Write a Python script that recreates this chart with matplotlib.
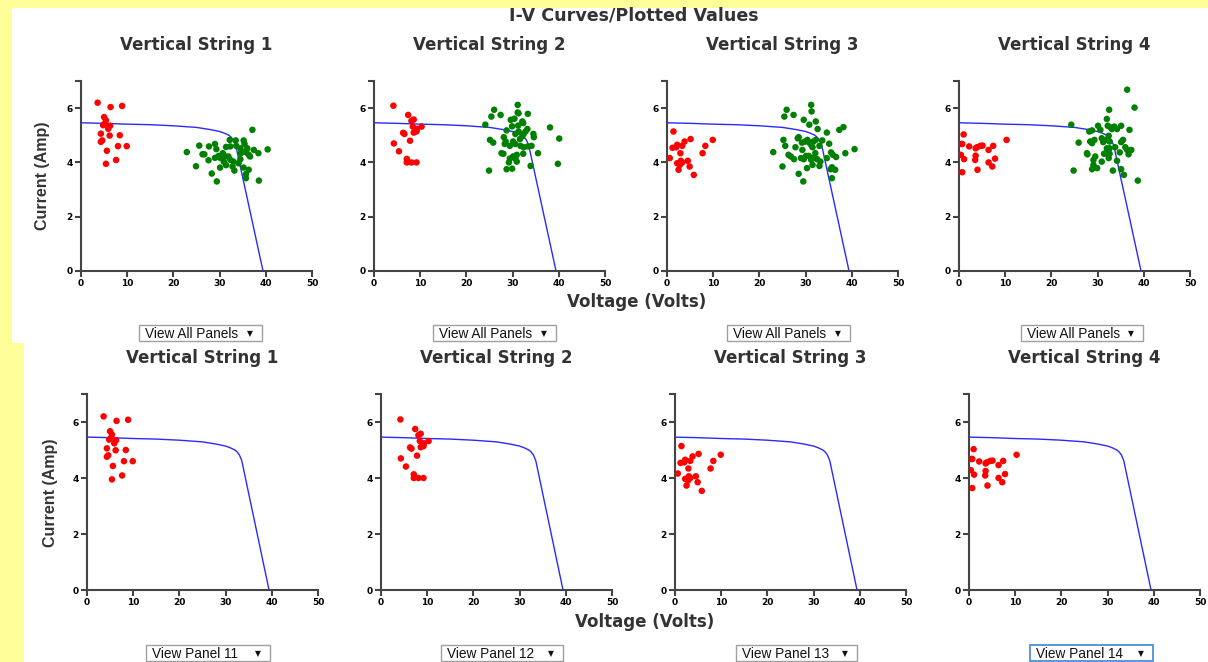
import matplotlib
matplotlib.use("Agg")
import matplotlib.pyplot as plt
from matplotlib.patches import Rectangle

W, H = 1208, 662

# IV curve (voltage, current)
curve_v = [0, 5, 10, 15, 20, 25, 28, 30, 31, 32, 32.5, 33, 33.5, 39.4]
curve_i = [5.46, 5.44, 5.41, 5.39, 5.35, 5.29, 5.21, 5.14, 5.08, 5.00, 4.93, 4.82, 4.62, 0]

# red points (panel readings) per string
red1_v = [3.6, 6.4, 8.9, 5.0, 5.4, 5.1, 6.3, 4.8, 5.9, 4.3, 6.2, 8.4, 4.6, 4.3, 8.0, 9.9, 5.6, 7.6, 5.4]
red1_i = [6.2, 6.04, 6.08, 5.67, 5.55, 5.42, 5.35, 5.37, 5.24, 5.06, 4.99, 5.0, 4.81, 4.76, 4.6, 4.6, 4.43, 4.09, 3.95]
red2_v = [4.2, 7.4, 8.6, 8.1, 8.4, 10.3, 9.3, 9.2, 8.6, 6.3, 6.6, 7.8, 4.3, 5.4, 7.1, 7.1, 8.1, 9.2]
red2_i = [6.09, 5.75, 5.58, 5.53, 5.32, 5.32, 5.24, 5.14, 5.1, 5.09, 5.05, 4.80, 4.70, 4.41, 4.13, 4.0, 4.0, 4.0]
red3_v = [1.4, 1.2, 2.2, 2.0, 3.3, 3.8, 5.1, 0.6, 2.9, 3.0, 3.3, 2.2, 2.8, 4.5, 2.5, 4.9, 5.8, 7.7, 8.3, 9.9]
red3_i = [5.14, 4.54, 4.65, 4.56, 4.61, 4.77, 4.86, 4.16, 4.34, 4.06, 4.0, 3.97, 3.91, 4.06, 3.73, 3.85, 3.54, 4.34, 4.61, 4.83]
red4_v = [1.0, 0.5, 0.7, 2.2, 3.6, 3.9, 4.6, 5.1, 7.4, 6.4, 0.4, 1.1, 3.6, 3.5, 7.8, 6.4, 7.2, 4.0, 0.7, 10.3]
red4_i = [5.03, 4.68, 4.68, 4.59, 4.52, 4.56, 4.61, 4.62, 4.61, 4.46, 4.28, 4.12, 4.25, 4.09, 4.14, 4.0, 3.85, 3.73, 3.64, 4.83]

# green points (other plotted values) per string
grn1_v = [22.9, 25.6, 26.3, 26.7, 24.9, 27.7, 29.0, 27.6, 29.3, 28.3, 29.4, 30.1, 29.0, 29.8, 30.1,
          30.7, 31.2, 31.4, 32.3, 32.2, 33.5, 33.6, 35.2, 35.4, 36.0, 35.8, 36.3, 37.1, 37.4, 38.4,
          40.4, 31.4, 32.3, 33.0, 33.2, 34.5, 34.6, 35.2, 36.3, 35.7, 35.7, 38.5, 36.6, 32.8, 34.1,
          31.9, 30.9, 34.5, 35.5]
grn1_i = [4.38, 4.62, 4.30, 4.30, 3.86, 4.59, 4.68, 4.08, 4.49, 3.59, 3.30, 3.81, 4.17, 4.24, 4.17,
          4.34, 4.22, 4.57, 4.59, 4.83, 4.81, 4.61, 4.81, 4.68, 4.52, 4.37, 4.28, 5.2, 4.46, 4.34,
          4.48, 3.9, 4.1, 4.03, 3.7, 4.12, 4.34, 3.81, 3.73, 3.57, 3.42, 3.33, 4.22, 3.85, 3.97,
          4.22, 4.03, 4.52, 4.40]
grn2_v = [24.1, 24.9, 25.4, 26.0, 27.4, 25.1, 25.8, 27.6, 28.0, 28.7, 28.1, 28.5, 28.3, 28.7, 29.9,
          29.2, 29.4, 29.6, 30.4, 31.1, 31.1, 31.3, 33.3, 32.1, 32.3, 31.2, 33.2, 32.8, 32.4, 32.1,
          31.6, 30.1, 30.6, 29.4, 31.7, 32.4, 33.3, 34.1, 34.5, 34.6, 35.5, 33.9, 30.9, 30.6, 30.1,
          30.9, 32.3, 38.1, 40.1, 39.8, 29.9, 30.6, 31.3]
grn2_i = [5.39, 3.70, 5.69, 5.94, 5.75, 4.83, 4.73, 4.34, 4.32, 5.18, 4.93, 4.77, 4.68, 3.75, 3.77,
          4.0, 4.14, 5.57, 5.61, 6.12, 5.84, 5.81, 5.79, 5.51, 5.45, 5.36, 5.23, 5.14, 5.05, 4.96,
          4.86, 4.77, 4.68, 4.61, 4.61, 4.56, 4.59, 4.61, 5.05, 4.93, 4.34, 3.87, 4.28, 4.14, 4.22,
          4.03, 4.32, 5.29, 4.88, 3.95, 5.33, 5.05, 5.14]
grn3_v = [23.0, 25.0, 25.2, 25.4, 25.9, 27.4, 25.6, 26.3, 26.8, 27.5, 27.8, 28.3, 28.5, 29.6, 29.3,
          29.0, 29.6, 29.2, 29.9, 28.5, 29.5, 30.3, 30.1, 30.7, 31.2, 31.3, 30.8, 32.2, 32.6, 30.4,
          30.8, 31.2, 31.5, 31.7, 32.2, 33.6, 33.0, 32.1, 31.7, 31.2, 32.5, 31.5, 33.0, 33.2, 34.6,
          35.1, 34.6, 35.5, 35.9, 35.7, 35.4, 36.4, 35.7, 36.6, 37.3, 38.2, 38.6, 40.6]
grn3_i = [4.38, 3.85, 4.83, 5.69, 5.94, 5.75, 4.61, 4.28, 4.22, 4.12, 4.56, 4.89, 4.93, 5.57, 4.46,
          4.16, 4.12, 4.73, 4.77, 3.58, 3.30, 3.79, 4.24, 4.24, 6.12, 5.88, 5.39, 5.51, 5.23, 4.83,
          4.73, 4.65, 4.56, 4.77, 4.83, 4.81, 4.61, 4.34, 4.16, 4.10, 4.12, 3.91, 3.87, 4.03, 5.10,
          4.69, 4.16, 4.37, 4.28, 3.82, 3.75, 3.73, 3.42, 4.2, 5.20, 5.30, 4.34, 4.49]
grn4_v = [24.3, 24.8, 25.9, 27.7, 27.8, 28.2, 28.8, 28.4, 28.8, 29.3, 29.1, 29.5, 28.8, 29.9, 29.1,
          30.1, 30.6, 30.9, 31.2, 30.9, 31.4, 32.0, 32.5, 32.2, 32.8, 33.1, 33.6, 34.2, 32.4, 32.0,
          32.6, 32.0, 32.6, 31.9, 32.6, 32.4, 33.3, 33.8, 34.2, 35.1, 35.1, 35.5, 34.8, 35.1, 35.7,
          36.0, 36.4, 36.9, 36.4, 37.3, 36.7, 38.0, 38.7]
grn4_i = [5.39, 3.70, 4.73, 4.34, 4.30, 5.14, 5.18, 4.77, 4.71, 4.83, 4.09, 4.22, 3.75, 3.79, 3.91,
          5.35, 5.20, 4.89, 4.75, 4.03, 4.32, 5.6, 5.94, 5.35, 5.29, 5.23, 5.32, 5.23, 4.98, 4.83,
          4.77, 4.52, 4.52, 4.34, 4.32, 4.16, 3.70, 4.56, 4.06, 5.35, 4.75, 4.83, 4.37, 3.75, 3.54,
          4.56, 4.46, 5.20, 6.68, 4.46, 4.30, 6.02, 3.33]

titles = ["Vertical String 1", "Vertical String 2", "Vertical String 3", "Vertical String 4"]
reds = [(red1_v, red1_i), (red2_v, red2_i), (red3_v, red3_i), (red4_v, red4_i)]
greens = [(grn1_v, grn1_i), (grn2_v, grn2_i), (grn3_v, grn3_i), (grn4_v, grn4_i)]
top_menus = ["View All Panels", "View All Panels", "View All Panels", "View All Panels"]
bot_menus = ["View Panel 11", "View Panel 12", "View Panel 13", "View Panel 14"]

YELLOW = "#ffff99"
TXT = "#333333"
FONT = "Liberation Sans"
BOLD = "DejaVu Sans"

fig = plt.figure(figsize=(W / 100, H / 100), dpi=100)
fig.patch.set_facecolor(YELLOW)


def fx(px):
    return px / W


def fy(py):
    return 1 - py / H


# white page areas
fig.patches.append(Rectangle((fx(12), fy(343)), fx(W - 12), 335 / H, transform=fig.transFigure,
                             facecolor="white", edgecolor="none", zorder=-5))
fig.patches.append(Rectangle((fx(24), 0), fx(W - 24), fy(343), transform=fig.transFigure,
                             facecolor="white", edgecolor="none", zorder=-5))


def panel(left, bottom, height, title, red, green=None):
    ax = fig.add_axes([fx(left), fy(bottom), fx(231), height / H])
    ax.set_facecolor("none")
    ax.plot(curve_v, curve_i, color="#2a2aff", lw=1, zorder=2)
    if green is not None:
        ax.scatter(green[0], green[1], s=22, color="#008000", edgecolors="none", zorder=3)
    ax.scatter(red[0], red[1], s=22, color="#ff0000", edgecolors="none", zorder=4)
    ax.set_xlim(0, 50)
    ax.set_ylim(0, 7)
    ax.set_xticks([0, 10, 20, 30, 40, 50])
    ax.set_yticks([0, 2, 4, 6, 7])
    ax.set_yticklabels(["0", "2", "4", "6", ""])
    for s in ["top", "right"]:
        ax.spines[s].set_visible(False)
    for s in ["left", "bottom"]:
        ax.spines[s].set_color("#444444")
        ax.spines[s].set_linewidth(1.5)
    ax.tick_params(direction="out", length=4, width=1.5, color="#444444", pad=2,
                   labelsize=6.5)
    for lab in ax.get_xticklabels() + ax.get_yticklabels():
        lab.set_fontweight("bold")
        lab.set_family(BOLD)
    ax.set_title(title, fontsize=12, fontweight="bold", color=TXT, family=BOLD, pad=22)
    return ax


def menu(x0, x1, y0, y1, label, edge="#a0a0a0", lw=1):
    fig.patches.append(Rectangle((fx(x0), fy(y1)), fx(x1 - x0), (y1 - y0) / H,
                                 transform=fig.transFigure, facecolor="white",
                                 edgecolor=edge, lw=lw, zorder=5))
    fig.text(fx(x0 + 6), fy((y0 + y1) / 2 + 0.5), label, fontsize=9.8, family=FONT,
             color="#111111", va="center", ha="left", zorder=6)
    fig.text(fx(x1 - 12), fy((y0 + y1) / 2 + 0.5), "\u25bc", fontsize=5.5, family="DejaVu Sans",
             color="#111111", va="center", ha="center", zorder=6)


top_lefts = [81, 374, 667, 959]
bot_lefts = [87, 381, 675, 969]
top_menu_x = [(139, 262), (433, 556), (727, 850), (1021, 1143)]
bot_menu_x = [(146, 270), (441, 563), (736, 857), (1030, 1153)]

for k in range(4):
    panel(top_lefts[k], 271, 190, titles[k], reds[k], greens[k])
    panel(bot_lefts[k], 590, 196, titles[k], reds[k])
    menu(top_menu_x[k][0], top_menu_x[k][1], 325, 341, top_menus[k])
    if k == 3:
        menu(bot_menu_x[k][0], bot_menu_x[k][1], 645, 661, bot_menus[k], edge="#4a90d9", lw=1.3)
    else:
        menu(bot_menu_x[k][0], bot_menu_x[k][1], 645, 661, bot_menus[k])

fig.text(fx(634), fy(16), "I-V Curves/Plotted Values", fontsize=12.6, fontweight="bold",
         color=TXT, family=BOLD, ha="center", va="center")
fig.text(fx(43), fy(176), "Current (Amp)", fontsize=11.5, fontweight="bold", color=TXT,
         family=FONT, rotation=90, ha="center", va="center")
fig.text(fx(50), fy(493), "Current (Amp)", fontsize=11.5, fontweight="bold", color=TXT,
         family=FONT, rotation=90, ha="center", va="center")
fig.text(fx(637), fy(302), "Voltage (Volts)", fontsize=12, fontweight="bold", color=TXT,
         family=BOLD, ha="center", va="center")
fig.text(fx(645), fy(622), "Voltage (Volts)", fontsize=12, fontweight="bold", color=TXT,
         family=BOLD, ha="center", va="center")

fig.savefig("out.png", dpi=100, facecolor=YELLOW)
